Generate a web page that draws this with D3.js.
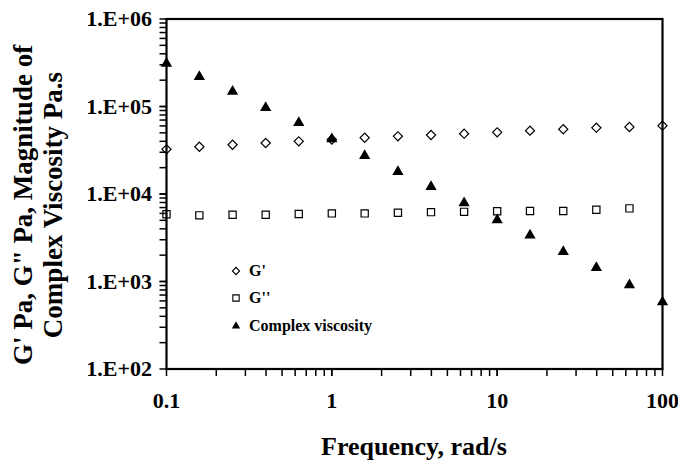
<!DOCTYPE html>
<html><head><meta charset="utf-8">
<script src="https://cdn.jsdelivr.net/npm/d3@7"></script>
<style>
body{margin:0;background:#fff;}
text{font-family:"Liberation Serif","Times New Roman",serif;font-weight:bold;fill:#000;}
</style></head>
<body><svg id="c" width="678" height="462"></svg>
<script>
const freq = [0.1,0.158,0.251,0.398,0.631,1,1.58,2.51,3.98,6.31,10,15.8,25.1,39.8,63.1,100];
const gPrime = [32400,34700,36600,38300,40000,42000,44000,45600,47200,48900,50700,53000,54900,57300,58300,60400];
const gDouble = [5860,5700,5800,5800,5900,6000,6000,6100,6200,6250,6340,6400,6400,6600,6850,null];
const viscosity = [310000,219000,148000,97000,65000,42500,27400,18000,12100,7900,5050,3370,2190,1440,912,583];
const xTicks = [0.1,1,10,100];
const yTicks = [1e2,1e3,1e4,1e5,1e6];
const yTickLabels = ["1.E+02","1.E+03","1.E+04","1.E+05","1.E+06"];
const legendLabels = ["G'","G''","Complex viscosity"];

const svg = d3.select("#c");
const L=166.5, R=662.5, T=19, B=369;
const x = d3.scaleLog().domain([0.1,100]).range([L,R]);
const y = d3.scaleLog().domain([1e2,1e6]).range([B,T]);

const xMinor = [], yMinor = [];
for (let d=0.1; d<100; d*=10) for (let k=1;k<=10;k++) xMinor.push(+(d*k).toPrecision(3));
for (let d=1e2; d<1e6; d*=10) for (let k=1;k<=10;k++) yMinor.push(d*k);

const g = svg.append("g");
g.selectAll(".xt").data(xMinor).join("line")
  .attr("x1",d=>x(d)).attr("x2",d=>x(d)).attr("y1",B).attr("y2",B+7)
  .attr("stroke","#000").attr("stroke-width",1.5);
g.selectAll(".yt").data(yMinor).join("line")
  .attr("y1",d=>y(d)).attr("y2",d=>y(d)).attr("x1",L-7).attr("x2",L)
  .attr("stroke","#000").attr("stroke-width",1.5);

g.append("rect").attr("x",L).attr("y",T).attr("width",R-L).attr("height",B-T)
  .attr("fill","none").attr("stroke","#000").attr("stroke-width",2.2);

g.selectAll(".xl").data(xTicks).join("text")
  .attr("x",d=>x(d)).attr("y",408).attr("text-anchor","middle")
  .style("font-size","22px").text(d=>String(d));
g.selectAll(".yl").data(yTicks).join("text")
  .attr("x",152).attr("y",d=>y(d)+7).attr("text-anchor","end")
  .style("font-size","22px").text((d,i)=>yTickLabels[i]);

svg.append("text").attr("x",414).attr("y",455).attr("text-anchor","middle")
  .style("font-size","26px").text("Frequency, rad/s");
const yt = svg.append("text").attr("transform","translate(32,205) rotate(-90)")
  .attr("text-anchor","middle").style("font-size","27px");
yt.append("tspan").attr("x",0).attr("y",0).text("G' Pa, G\" Pa, Magnitude of");
yt.append("tspan").attr("x",0).attr("y",30).text("Complex Viscosity Pa.s");

const tri = d3.symbol().type(d3.symbolTriangle).size(55);
const sq = d3.symbol().type(d3.symbolSquare).size(52);
const dia = d3.symbol().type(d3.symbolSquare).size(42);

const pts = g.append("g");
pts.selectAll(".gd").data(freq.map((f,i)=>[f,gDouble[i]]).filter(d=>d[1]!=null)).join("path")
  .attr("d",sq).attr("transform",d=>`translate(${x(d[0])},${y(d[1])})`)
  .attr("fill","none").attr("stroke","#000").attr("stroke-width",1.2);
pts.selectAll(".gp").data(freq.map((f,i)=>[f,gPrime[i]])).join("path")
  .attr("d",dia).attr("transform",d=>`translate(${x(d[0])},${y(d[1])}) rotate(45)`)
  .attr("fill","none").attr("stroke","#000").attr("stroke-width",1.2);
pts.selectAll(".cv").data(freq.map((f,i)=>[f,viscosity[i]])).join("path")
  .attr("d",tri).attr("transform",d=>`translate(${x(d[0])},${y(d[1])})`)
  .attr("fill","#000");

const lg = svg.append("g");
const legY = [271,298,326];
lg.append("path").attr("d",d3.symbol().type(d3.symbolSquare).size(26)).attr("transform",`translate(236,${legY[0]}) rotate(45)`).attr("fill","none").attr("stroke","#000").attr("stroke-width",1.1);
lg.append("path").attr("d",d3.symbol().type(d3.symbolSquare).size(40)).attr("transform",`translate(236,${legY[1]})`).attr("fill","none").attr("stroke","#000").attr("stroke-width",1.1);
lg.append("path").attr("d",d3.symbol().type(d3.symbolTriangle).size(30)).attr("transform",`translate(236,${legY[2]})`).attr("fill","#000");
lg.selectAll("text").data(legendLabels).join("text")
  .attr("x",249).attr("y",(d,i)=>legY[i]+5).style("font-size","16px").text(d=>d);
</script></body></html>
